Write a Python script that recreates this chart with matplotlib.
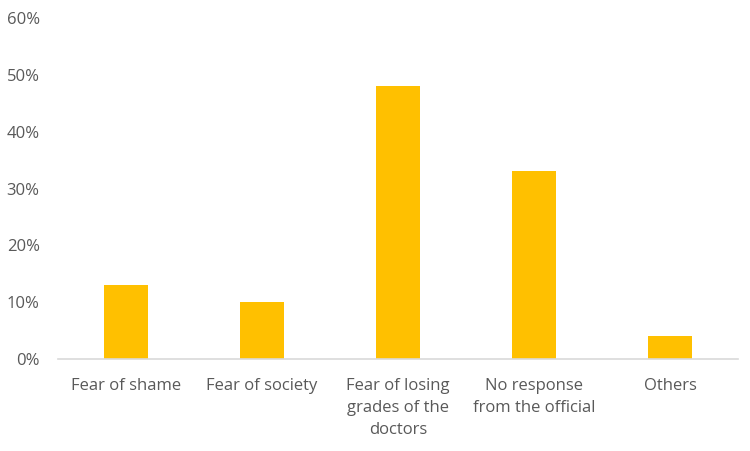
import matplotlib
matplotlib.use("Agg")
import matplotlib.pyplot as plt
from matplotlib.ticker import PercentFormatter

categories = [
    "Fear of shame",
    "Fear of society",
    "Fear of losing\ngrades of the\ndoctors",
    "No response\nfrom the official",
    "Others",
]
values = [13, 10, 48, 33, 4]

plt.rcParams["font.family"] = ["Open Sans", "DejaVu Sans"]

fig = plt.figure(figsize=(7.5, 4.51), dpi=100)
ax = fig.add_axes([0.077, 0.204, 0.907, 0.756])

x = range(len(categories))
ax.bar(x, values, width=0.32, color="#FFC000")

ax.set_xlim(-0.5, len(categories) - 0.5)
ax.set_ylim(0, 60)
ax.set_yticks(range(0, 61, 10))
ax.yaxis.set_major_formatter(PercentFormatter(decimals=0))
ax.set_xticks(list(x))
ax.set_xticklabels(categories, linespacing=1.5)

for side in ["top", "right", "left"]:
    ax.spines[side].set_visible(False)
ax.spines["bottom"].set_color("#D9D9D9")
ax.spines["bottom"].set_linewidth(1.2)

ax.tick_params(axis="both", length=0, labelsize=12, colors="#595959")
ax.tick_params(axis="x", pad=14)
ax.tick_params(axis="y", pad=13)

fig.savefig("out.png", dpi=100, facecolor="white")
